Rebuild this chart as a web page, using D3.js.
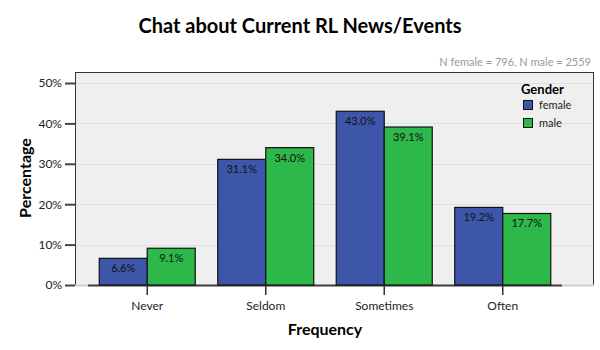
<!DOCTYPE html>
<html><head><meta charset="utf-8">
<script src="https://cdn.jsdelivr.net/npm/d3@7"></script>
<style>body{margin:0;background:#fff}svg{display:block}text{font-family:Lato,sans-serif}</style>
</head><body>
<svg id="c" width="600" height="350"></svg>
<script>
const categories = ["Never","Seldom","Sometimes","Often"];
const seriesNames = ["female","male"];
const female = [6.6,31.1,43.0,19.2];
const male = [9.1,34.0,39.1,17.7];
const yTicks = [0,10,20,30,40,50];
const colors = {female:"#3e56aa", male:"#2db84a"};

const svg = d3.select("#c");
const box = {l:75, r:593, t:72, b:285};
const x = d3.scaleBand().domain(categories).range([88,562]).paddingInner(0.19).paddingOuter(0.095);
const xs = d3.scaleBand().domain(seriesNames).range([0, x.bandwidth()]);
const y = d3.scaleLinear().domain([0,50]).range([285,83]);

svg.append("rect").attr("x",box.l+0.5).attr("y",box.t+0.5).attr("width",box.r-box.l).attr("height",box.b-box.t)
  .attr("fill","#efefef").attr("stroke","#333").attr("stroke-width",1);
svg.append("g").selectAll("line").data(yTicks.slice(1)).join("line")
  .attr("x1",box.l+1).attr("x2",box.r).attr("y1",d=>Math.round(y(d))+0.5).attr("y2",d=>Math.round(y(d))+0.5)
  .attr("stroke","#e0e0e0");
svg.append("line").attr("x1",box.l).attr("x2",box.r+1).attr("y1",285.5).attr("y2",285.5).attr("stroke","#d0d0d0").attr("stroke-width",2);
svg.append("line").attr("x1",88).attr("x2",562).attr("y1",285.5).attr("y2",285.5).attr("stroke","#444").attr("stroke-width",2);

const data = categories.map((c,i)=>({c, vals:[{s:"female",v:female[i]},{s:"male",v:male[i]}]}));
const g = svg.append("g").selectAll("g").data(data).join("g").attr("transform",d=>`translate(${x(d.c)},0)`);
g.selectAll("rect").data(d=>d.vals).join("rect")
  .attr("x",d=>xs(d.s)).attr("width",xs.bandwidth()).attr("y",d=>y(d.v)).attr("height",d=>y(0)-y(d.v))
  .attr("fill",d=>colors[d.s]).attr("stroke","#111").attr("stroke-width",1.2);
g.selectAll("text").data(d=>d.vals).join("text")
  .attr("x",d=>xs(d.s)+xs.bandwidth()/2).attr("y",d=>y(d.v)+14).attr("text-anchor","middle")
  .attr("font-size",11).attr("fill","#111").text(d=>d.v.toFixed(1)+"%");

const xa = svg.append("g").attr("transform","translate(0,285)")
  .call(d3.axisBottom(x).tickSize(10).tickSizeOuter(0).tickPadding(6));
xa.select(".domain").remove();
xa.selectAll("line").attr("stroke","#333").attr("stroke-width",1.5);
xa.selectAll("text").attr("font-size",12).attr("fill","#222").attr("font-family","Lato");
const ya = svg.append("g").attr("transform","translate(75,0)")
  .call(d3.axisLeft(y).tickValues(yTicks).tickSize(10).tickPadding(3).tickFormat(d=>d+"%"));
ya.select(".domain").remove();
ya.selectAll("line").attr("stroke","#444").attr("stroke-width",2);
ya.selectAll("text").attr("font-size",12).attr("fill","#222").attr("font-family","Lato");

svg.append("text").attr("x",300).attr("y",33).attr("text-anchor","middle").attr("font-size",20).attr("font-weight","bold").attr("fill","#000").text("Chat about Current RL News/Events");
svg.append("text").attr("x",591).attr("y",66).attr("text-anchor","end").attr("font-size",11).attr("fill","#999").text("N female = 796, N male = 2559");
svg.append("text").attr("x",325).attr("y",335).attr("text-anchor","middle").attr("font-size",16).attr("font-weight","bold").text("Frequency");
svg.append("text").attr("transform","translate(31,178) rotate(-90)").attr("text-anchor","middle").attr("font-size",16).attr("font-weight","bold").text("Percentage");

const lg = svg.append("g");
lg.append("text").attr("x",521).attr("y",94).attr("font-size",13).attr("font-weight","bold").text("Gender");
seriesNames.forEach((s,i)=>{
  lg.append("rect").attr("x",523.5).attr("y",100.5+i*18).attr("width",9).attr("height",9).attr("fill",colors[s]).attr("stroke","#111");
  lg.append("text").attr("x",539).attr("y",109+i*18).attr("font-size",11).attr("fill","#222").text(s);
});
</script>
</body></html>
